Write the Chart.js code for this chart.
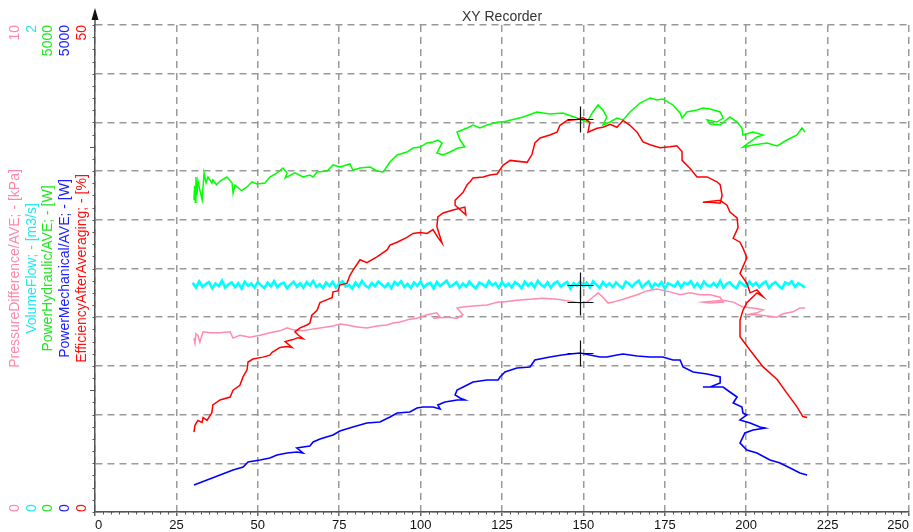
<!DOCTYPE html>
<html>
<head>
<meta charset="utf-8">
<script src="https://cdn.jsdelivr.net/npm/chart.js@4/dist/chart.umd.min.js"></script>
<style>
  html, body { margin: 0; padding: 0; background: #fff; }
  #wrap { width: 913px; height: 532px; position: relative; }
</style>
</head>
<body>
<div id="wrap"><canvas id="c"></canvas></div>
<script>
// ---- Recorded samples (x = recorder X channel, 0..250) ----
const efficiencyX = [30.4,30.7,31.6,32.9,33.2,34.4,35.9,36.2,38.4,41.5,42.4,44.5,45.5,46.7,47.0,48.5,51.6,53.7,54.4,56.8,59.0,60.5,58.4,60.8,62.3,63.9,62.3,61.4,63.0,65.1,66.0,66.6,68.2,69.1,71.3,72.8,73.1,74.6,75.2,77.4,78.3,79.2,81.4,83.5,86.6,89.7,90.6,92.8,95.8,97.7,99.8,102.0,103.8,105.3,106.6,105.0,105.3,106.9,110.0,113.6,113.9,110.6,110.6,113.0,114.3,115.2,116.1,119.2,121.3,123.5,125.3,127.5,132.7,134.2,135.1,136.7,139.7,141.9,142.8,145.0,148.0,149.9,152.0,151.4,154.2,156.0,158.2,160.3,162.2,164.3,166.5,168.3,170.5,173.5,176.6,178.7,180.3,180.3,182.7,184.9,188.0,191.0,192.0,192.6,192.0,188.9,186.7,192.0,194.1,195.0,197.2,197.5,196.0,198.1,199.0,200.2,198.1,200.2,201.2,203.3,205.2,203.3,200.2,199.0,198.1,198.1,201.2,205.2,209.5,212.5,215.6,217.4,218.7];
const efficiencyPct = [8.2,8.9,9.4,9.2,9.7,9.4,10.2,11.0,11.5,11.8,12.5,13.0,13.9,14.6,15.4,15.7,15.9,16.1,16.4,16.9,17.0,16.9,17.5,17.7,17.9,17.8,18.2,18.5,18.9,19.2,19.4,20.2,20.7,21.5,21.8,22.0,22.6,22.7,23.3,23.5,24.3,24.8,25.9,25.6,26.2,26.9,27.4,27.7,28.2,28.6,28.7,28.6,29.0,28.2,27.6,29.3,30.3,30.7,31.0,31.3,30.5,31.5,32.0,32.8,33.6,33.9,34.3,34.4,34.6,34.7,35.6,36.1,35.9,36.7,37.9,38.4,38.7,39.0,39.7,40.2,40.3,40.5,40.0,39.0,39.4,39.5,39.8,39.5,40.2,39.7,39.0,38.0,37.7,37.4,37.5,37.6,37.0,36.1,35.3,34.4,34.4,33.9,33.6,32.5,31.7,31.8,31.8,32.0,31.5,30.8,30.2,29.2,28.1,27.7,27.1,26.1,24.5,23.5,22.5,22.8,22.1,22.5,21.5,20.7,19.7,18.0,16.6,14.9,13.6,12.2,10.8,9.8,9.7];

const hydraulicX = [30.4,30.6,30.8,31.0,31.3,31.6,32.2,32.9,33.5,34.1,34.7,35.9,36.2,37.3,38.4,40.5,42.1,42.4,43.0,45.0,46.7,48.2,49.8,52.2,53.7,55.9,57.7,59.0,58.4,61.4,63.9,66.0,67.0,68.2,71.3,73.1,75.2,78.3,79.2,81.4,84.5,86.6,88.5,90.6,92.8,95.8,97.7,99.8,102.0,103.8,105.3,106.6,105.0,106.9,109.0,111.5,113.6,112.1,111.2,114.3,116.1,118.2,120.4,123.8,125.3,131.5,135.7,139.7,143.7,148.0,151.1,152.9,154.5,156.0,157.2,156.0,158.2,160.3,162.2,164.3,167.4,170.5,172.6,174.4,177.5,179.7,180.3,181.8,184.9,186.7,188.9,192.0,192.9,191.0,188.0,188.9,192.0,195.0,197.2,198.7,199.0,202.1,205.2,203.3,199.0,202.1,206.4,209.5,212.5,215.6,217.1,218.1];
const hydraulicW = [3203,3350,3180,3439,3250,3400,3306,3203,3481,3380,3439,3378,3409,3360,3398,3439,3378,3275,3357,3300,3337,3390,3368,3378,3439,3481,3532,3481,3429,3481,3439,3460,3439,3491,3501,3563,3542,3573,3511,3532,3542,3501,3491,3593,3665,3696,3737,3747,3789,3799,3819,3789,3686,3665,3696,3737,3747,3819,3901,3943,3973,3943,3973,4004,4004,4055,4107,4086,4097,4045,4004,4107,4179,4127,4055,3973,4004,4045,4025,4107,4199,4251,4230,4240,4179,4097,4045,4107,4127,4148,4138,4107,4045,4004,4025,3984,3973,4055,4004,3943,3871,3901,3871,3850,3747,3768,3789,3758,3819,3871,3943,3901];

const mechanicalX = [30.4,34.4,38.4,42.4,45.5,47.0,50.7,53.7,55.9,59.0,62.0,63.9,62.0,63.9,66.0,67.0,69.1,73.1,75.2,79.2,83.5,87.5,90.6,92.8,96.7,98.9,100.7,103.8,106.0,105.3,107.5,111.2,113.6,112.1,110.6,111.2,114.3,116.1,120.4,123.8,124.4,125.9,129.6,133.6,135.1,139.7,143.4,145.9,149.0,152.0,155.1,157.2,160.3,162.2,166.5,170.5,174.4,177.5,179.7,180.6,183.7,188.0,192.0,192.0,188.9,186.7,192.9,195.0,197.2,196.0,198.7,199.0,200.2,198.1,201.2,204.2,205.8,202.1,199.6,198.1,200.2,203.3,207.3,210.4,213.5,216.5,218.7];
const mechanicalW = [277,329,380,431,462,513,534,555,585,606,616,606,657,667,678,719,749,791,832,873,914,924,975,1016,1027,1068,1078,1078,1057,1099,1129,1150,1150,1170,1201,1253,1304,1335,1355,1355,1386,1437,1478,1489,1561,1591,1612,1622,1632,1612,1591,1591,1612,1622,1602,1591,1591,1561,1561,1489,1437,1417,1386,1324,1283,1283,1283,1232,1181,1119,1078,1016,996,945,914,873,862,842,811,708,637,606,534,503,452,400,380];

const pressureX = [30.4,30.7,31.0,31.6,32.2,33.2,35.3,38.4,41.5,42.4,44.5,47.6,50.7,53.7,56.8,59.0,60.8,63.9,67.0,69.1,73.1,75.2,77.4,80.5,83.5,86.6,89.7,91.5,93.7,96.7,98.9,102.0,105.0,106.0,103.8,108.1,111.2,113.0,111.2,113.0,116.1,120.4,123.8,125.3,129.6,133.6,137.6,141.9,145.9,149.0,151.1,152.9,154.5,156.0,157.6,159.1,162.2,166.5,169.5,172.6,176.6,179.7,182.7,185.8,188.9,192.0,192.9,188.9,186.7,192.9,196.0,199.0,202.1,205.2,203.3,200.2,203.3,207.3,209.5,211.3,214.4,216.5,218.1];
const pressureKPa = [3.57,3.47,3.66,3.63,3.49,3.70,3.68,3.68,3.70,3.57,3.63,3.59,3.63,3.68,3.72,3.78,3.74,3.72,3.76,3.78,3.82,3.86,3.84,3.80,3.78,3.82,3.84,3.88,3.90,3.96,3.98,4.05,4.09,4.00,3.98,4.00,3.98,4.05,4.19,4.21,4.23,4.25,4.31,4.31,4.35,4.37,4.39,4.37,4.33,4.29,4.31,4.41,4.50,4.41,4.29,4.31,4.37,4.46,4.54,4.58,4.52,4.46,4.50,4.46,4.46,4.41,4.31,4.29,4.31,4.35,4.31,4.21,4.19,4.15,4.09,4.05,4.05,4.02,4.00,4.07,4.11,4.19,4.19];

const flowX = [30,31,32,33,34,35,36,37,38,39,40,41,42,43,44,45,46,47,48,49,50,51,52,53,54,55,56,57,58,59,60,61,62,63,64,65,66,67,68,69,70,71,72,73,74,75,76,77,78,79,80,81,82,83,84,85,86,87,88,89,90,91,92,93,94,95,96,97,98,99,100,101,102,103,104,105,106,107,108,109,110,111,112,113,114,115,116,117,118,119,120,121,122,123,124,125,126,127,128,129,130,131,132,133,134,135,136,137,138,139,140,141,142,143,144,145,146,147,148,149,150,151,152,153,154,155,156,157,158,159,160,161,162,163,164,165,166,167,168,169,170,171,172,173,174,175,176,177,178,179,180,181,182,183,184,185,186,187,188,189,190,191,192,193,194,195,196,197,198,199,200,201,202,203,204,205,206,207,208,209,210,211,212,213,214,215,216,217,218];
const flowM3s = [
  0.941,0.922,0.947,0.925,0.936,0.944,0.919,0.939,0.927,0.950,
  0.921,0.935,0.943,0.924,0.940,0.918,0.946,0.929,0.938,0.922,
  0.945,0.931,0.920,0.942,0.926,0.948,0.923,0.937,0.941,0.919,
  0.934,0.946,0.925,0.939,0.921,0.944,0.930,0.949,0.924,0.936,
  0.920,0.943,0.928,0.945,0.922,0.938,0.947,0.926,0.933,0.918,
  0.942,0.925,0.949,0.930,0.921,0.940,0.927,0.946,0.935,0.923,
  0.939,0.919,0.944,0.932,0.948,0.924,0.937,0.920,0.943,0.929,
  0.946,0.922,0.936,0.941,0.918,0.945,0.928,0.939,0.950,0.925,
  0.933,0.944,0.921,0.938,0.926,0.947,0.930,0.919,0.942,0.936,
  0.924,0.948,0.931,0.940,0.920,0.945,0.927,0.938,0.922,0.944,
  0.935,0.919,0.946,0.929,0.941,0.923,0.949,0.932,0.925,0.943,
  0.921,0.939,0.947,0.926,0.936,0.944,0.918,0.940,0.930,0.946,
  0.928,0.942,0.922,0.948,0.934,0.920,0.945,0.927,0.939,0.924,
  0.943,0.930,0.919,0.946,0.937,0.925,0.941,0.950,0.923,0.936,
  0.947,0.921,0.938,0.929,0.944,0.918,0.940,0.933,0.926,0.945,
  0.922,0.942,0.935,0.948,0.924,0.939,0.920,0.946,0.931,0.927,
  0.940,0.925,0.949,0.921,0.937,0.943,0.928,0.919,0.945,0.934,
  0.926,0.947,0.930,0.941,0.923,0.938,0.946,0.920,0.936,0.944,
  0.929,0.918,0.943,0.935,0.947,0.924,0.940,0.932,0.921];

// ---- Cursor readout ----
const cursorX = 149;
const cursorReadout = { yE: 40.3, yQ: 0.932, yP: 4.31, yM: 1632 };

// ---- Channel axes (left label columns) ----
const channels = [
  { axis: 'yP', title: 'PressureDifference/AVE; - [kPa]', color: '#ff88aa', min: 0, max: 10,   col: 15 },
  { axis: 'yQ', title: 'VolumeFlow; - [m3/s]',             color: '#22e8f0', min: 0, max: 2,    col: 32 },
  { axis: 'yH', title: 'PowerHydraulic/AVE; - [W]',        color: '#22e622', min: 0, max: 5000, col: 48 },
  { axis: 'yM', title: 'PowerMechanical/AVE; - [W]',       color: '#2020ff', min: 0, max: 5000, col: 65 },
  { axis: 'yE', title: 'EfficiencyAfterAveraging; - [%]',  color: '#ff1010', min: 0, max: 50,   col: 82 }
];

const toPoints = (xs, ys) => xs.map((x, i) => ({ x, y: ys[i] }));

const FONT = '"Liberation Sans", Arial, sans-serif';
Chart.defaults.font.family = FONT;

const leftColumns = {
  id: 'leftColumns',
  afterDraw(chart) {
    const ctx = chart.ctx;
    const area = chart.chartArea;
    ctx.save();
    ctx.font = '14px ' + FONT;
    ctx.textBaseline = 'middle';
    channels.forEach(ch => {
      const sc = chart.scales[ch.axis];
      const yTop = sc.getPixelForValue(ch.max);
      const yBot = sc.getPixelForValue(ch.min);
      ctx.fillStyle = ch.color;
      ctx.save();
      ctx.translate(ch.col, 0);
      ctx.rotate(-Math.PI / 2);
      ctx.textAlign = 'right';
      ctx.fillText(String(ch.max), -yTop, 0);
      ctx.textAlign = 'left';
      ctx.fillText(String(ch.min), -yBot, 0);
      ctx.textAlign = 'center';
      ctx.fillText(ch.title, -(area.top + area.bottom) / 2, 0);
      ctx.restore();
    });
    // chart title
    ctx.font = '14px ' + FONT;
    ctx.fillStyle = '#333';
    ctx.textAlign = 'center';
    ctx.fillText('XY Recorder', (area.left + area.right) / 2, 17);
    ctx.restore();
  }
};

const axisDecor = {
  id: 'axisDecor',
  afterDraw(chart) {
    const ctx = chart.ctx;
    const area = chart.chartArea;
    const xs = chart.scales.x, ys = chart.scales.yE;
    ctx.save();
    ctx.strokeStyle = '#555';
    ctx.lineWidth = 1;
    // minor ticks on x
    for (let v = 0; v <= 250; v += 2.5) {
      if (v % 25 === 0) continue;
      const px = Math.round(xs.getPixelForValue(v)) + 0.5;
      ctx.beginPath(); ctx.moveTo(px, area.bottom); ctx.lineTo(px, area.bottom + 2.5); ctx.stroke();
    }
    // minor ticks on y
    for (let v = 0; v <= 50; v += 1.25) {
      const py = Math.round(ys.getPixelForValue(v)) + 0.5;
      const len = (v === 12.5 || v === 37.5) ? 5 : 2.5;
      ctx.beginPath(); ctx.moveTo(area.left - len, py); ctx.lineTo(area.left, py); ctx.stroke();
    }
    // arrow on top of the y axis
    const ax = area.left;
    ctx.lineWidth = 1.5;
    ctx.beginPath(); ctx.moveTo(ax, area.top); ctx.lineTo(ax, area.top - 8); ctx.stroke();
    ctx.fillStyle = '#111';
    ctx.beginPath();
    ctx.moveTo(ax, area.top - 17);
    ctx.lineTo(ax - 3.5, area.top - 5);
    ctx.lineTo(ax + 3.5, area.top - 5);
    ctx.closePath(); ctx.fill();
    ctx.restore();
  }
};

const cursorCross = {
  id: 'cursorCross',
  afterDatasetsDraw(chart) {
    const ctx = chart.ctx;
    const px = Math.round(chart.scales.x.getPixelForValue(cursorX)) + 0.5;
    ctx.save();
    ctx.strokeStyle = '#111';
    ctx.lineWidth = 1.2;
    Object.keys(cursorReadout).forEach(ax => {
      const py = Math.round(chart.scales[ax].getPixelForValue(cursorReadout[ax])) + 0.5;
      ctx.beginPath();
      ctx.moveTo(px - 13, py); ctx.lineTo(px + 13, py);
      ctx.moveTo(px, py - 13); ctx.lineTo(px, py + 13);
      ctx.stroke();
    });
    ctx.restore();
  }
};

const hiddenAxis = (min, max) => ({ type: 'linear', position: 'left', min, max, display: false });

new Chart(document.getElementById('c'), {
  type: 'scatter',
  data: {
    datasets: [
      { label: 'EfficiencyAfterAveraging', yAxisID: 'yE', data: toPoints(efficiencyX, efficiencyPct), borderColor: '#ff0000', borderWidth: 1.5 },
      { label: 'VolumeFlow', yAxisID: 'yQ', data: toPoints(flowX, flowM3s), borderColor: '#00ffff', borderWidth: 2.6 },
      { label: 'PressureDifference/AVE', yAxisID: 'yP', data: toPoints(pressureX, pressureKPa), borderColor: '#ff8caf', borderWidth: 1.5 },
      { label: 'PowerMechanical/AVE', yAxisID: 'yM', data: toPoints(mechanicalX, mechanicalW), borderColor: '#0000ff', borderWidth: 1.6 },
      { label: 'PowerHydraulic/AVE', yAxisID: 'yH', data: toPoints(hydraulicX, hydraulicW), borderColor: '#00ff00', borderWidth: 1.5 }
    ].map(d => Object.assign(d, { showLine: true, pointRadius: 0, pointHoverRadius: 0, tension: 0, fill: false }))
  },
  options: {
    responsive: true,
    maintainAspectRatio: false,
    animation: false,
    devicePixelRatio: 1,
    layout: { padding: { left: 95, top: 25, right: 4, bottom: 0 } },
    plugins: { legend: { display: false }, tooltip: { enabled: false }, title: { display: false } },
    scales: {
      x: {
        type: 'linear', min: 0, max: 250,
        ticks: { stepSize: 25, color: '#111', font: { size: 13 }, padding: 2, maxRotation: 0, autoSkip: false, align: 'inner' },
        grid: { color: '#9a9a9a', lineWidth: 1.5, drawTicks: true, tickLength: 4, tickColor: '#666', tickWidth: 1.5 },
        border: { display: true, color: '#555', width: 1.5, dash: [7, 5] },
        afterFit(scale) { scale.height = 20; scale.paddingLeft = 0; scale.paddingRight = 0; }
      },
      yE: {
        type: 'linear', position: 'left', min: 0, max: 50,
        ticks: { display: false, stepSize: 5 },
        grid: { color: '#9a9a9a', lineWidth: 1.5, drawTicks: false },
        border: { display: true, color: '#555', width: 1.5, dash: [7, 5] },
        afterFit(scale) { scale.width = 0; }
      },
      yP: hiddenAxis(0, 10),
      yQ: hiddenAxis(0, 2),
      yH: hiddenAxis(0, 5000),
      yM: hiddenAxis(0, 5000)
    }
  },
  plugins: [leftColumns, axisDecor, cursorCross]
});
</script>
</body>
</html>
